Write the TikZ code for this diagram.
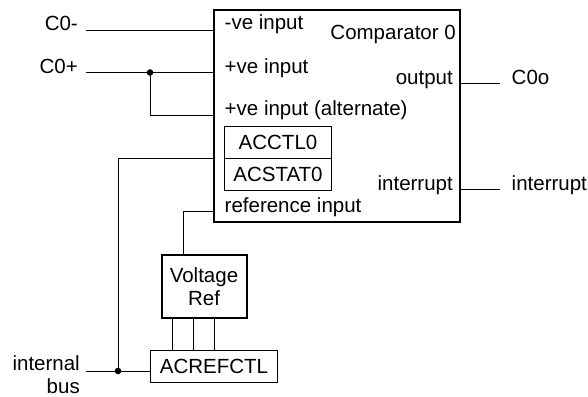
\documentclass[tikz,border=0pt]{standalone}
\usepackage{fontspec}
\setmainfont{Liberation Sans}
\begin{document}
\begin{tikzpicture}[x=1pt,y=-1pt,
  every node/.style={font=\fontsize{20.5}{23.5}\selectfont},
  lbl/.style={inner sep=0pt},
  thickbox/.style={draw, line width=2pt, inner sep=0pt},
  thinbox/.style={draw, line width=1pt, inner sep=0pt},
  wire/.style={line width=1pt},
  jdot/.style={fill=black}
]
\useasboundingbox (0,0) rectangle (588,396);
% boxes
\node[thickbox, minimum width=246pt, minimum height=212pt, anchor=north west] (cmp) at (213,9) {};
\node[thinbox, minimum width=107pt, minimum height=32pt, anchor=north west] (acc) at (224,126) {ACCTL0};
\node[thinbox, minimum width=107pt, minimum height=32pt, anchor=north west] (acs) at (224,158) {ACSTAT0};
\node[thickbox, minimum width=85pt, minimum height=63pt, align=center, anchor=north west] (vr) at (160.5,254) {Voltage\\Ref};
\node[thinbox, minimum width=127pt, minimum height=31.5pt, anchor=north west] (acr) at (150,350) {ACREFCTL};
% labels inside comparator
\node[lbl, anchor=base west] (lneg) at (224.5,30) {-ve input};
\node[lbl, anchor=base west] (lpos) at (224.5,73) {+ve input};
\node[lbl, anchor=base west] (lalt) at (224.5,115) {+ve input (alternate)};
\node[lbl, anchor=base west] (lref) at (224.5,212) {reference input};
\node[lbl, anchor=base east] (lcmp) at (456,40) {Comparator 0};
\node[lbl, anchor=base east] (lout) at (453,84) {output};
\node[lbl, anchor=base east] (lint) at (453,190) {interrupt};
% outer labels
\node[lbl, anchor=base east] (tneg) at (78,30.5) {C0-};
\node[lbl, anchor=base east] (tpos) at (78,73) {C0+};
\node[lbl, anchor=base west] (tout) at (511.5,84) {C0o};
\node[lbl, anchor=base west] (tint) at (511.5,190) {interrupt};
\node[lbl, anchor=base east] (tib1) at (80,370) {internal};
\node[lbl, anchor=base east] (tib2) at (80,393) {bus};
% coordinates
\coordinate (cm) at (86,30.5);
\coordinate (cp) at (86,72.5);
\coordinate (jp) at (150,72.5);
\coordinate (alt) at (213,115);
\coordinate (bj) at (118,371);
\coordinate (ib) at (86,371);
\coordinate (ri) at (213,211.5);
\coordinate (o) at (500,83.5);
\coordinate (io) at (500,189.3);
% wires
\draw[wire] (cm) -- (cm -| cmp.west);
\draw[wire] (cp) -- (cp -| cmp.west);
\draw[wire] (jp) |- (alt);
\draw[wire] (acs.north west -| cmp.west) -| (bj);
\draw[wire] (ib) -- (ib -| acr.west);
\draw[wire] (ri) -| ([xshift=-21pt]vr.north);
\foreach \dx in {-32,-10.7,10.3}
  \draw[wire] ([xshift=\dx pt]vr.south) -- ([xshift=\dx pt]vr.south |- acr.north);
\draw[wire] (cmp.east |- o) -- (o);
\draw[wire] (cmp.east |- io) -- (io);
\fill[jdot] (jp) circle (3.3);
\fill[jdot] (bj) circle (3.3);
\end{tikzpicture}
\end{document}
